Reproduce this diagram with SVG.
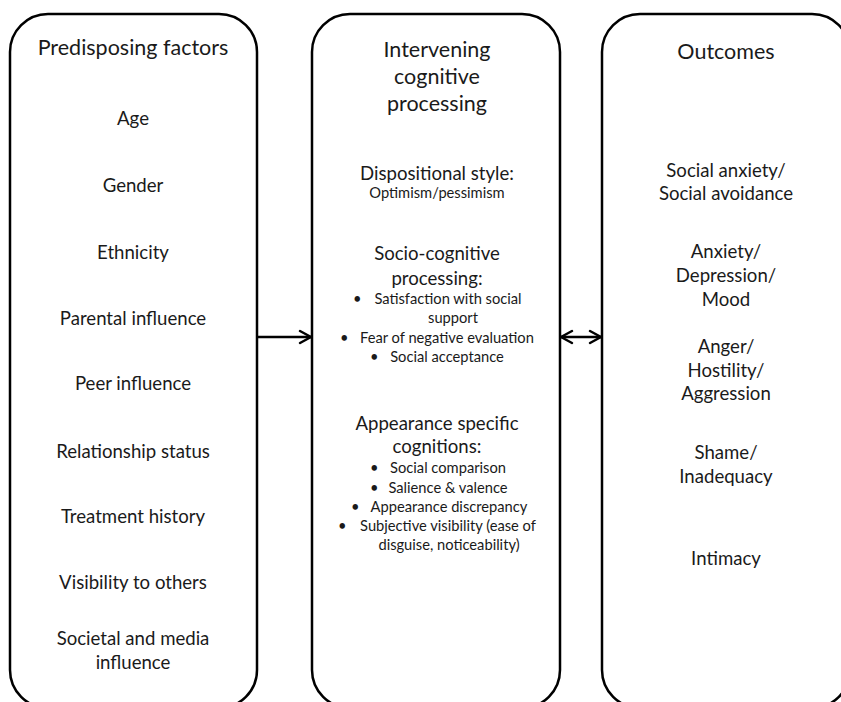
<svg xmlns="http://www.w3.org/2000/svg" width="841" height="702" viewBox="0 0 841 702">
<style>
.box{fill:#fff;stroke:#000;stroke-width:2.5}
text{font-family:Lato,"Open Sans","Liberation Sans",sans-serif;fill:#1a1a1a;text-anchor:middle}
.h{font-size:21.5px}
.i{font-size:18.6px}
.s{font-size:14.7px}
.b{text-anchor:start}
.conn{stroke:#000;stroke-width:2.5;fill:none}
.head{stroke:#000;stroke-width:2.5;fill:none;stroke-linecap:round;stroke-linejoin:round}
</style>
<rect width="841" height="702" fill="#fff"/>
<g id="predisposing">
<rect class="box" x="10" y="14" width="247" height="694" rx="38" ry="38"/>
<text class="h" x="133" y="55">Predisposing factors</text>
<text class="i" x="133" y="125">Age</text>
<text class="i" x="133" y="192">Gender</text>
<text class="i" x="133" y="259">Ethnicity</text>
<text class="i" x="133" y="325">Parental influence</text>
<text class="i" x="133" y="390">Peer influence</text>
<text class="i" x="133" y="458">Relationship status</text>
<text class="i" x="133" y="523">Treatment history</text>
<text class="i" x="133" y="589">Visibility to others</text>
<text class="i" x="133" y="645">Societal and media</text>
<text class="i" x="133" y="669">influence</text>
</g>
<g id="intervening">
<rect class="box" x="312" y="14" width="248" height="694" rx="38" ry="38"/>
<text class="h" x="437" y="57">Intervening</text>
<text class="h" x="437" y="84">cognitive</text>
<text class="h" x="437" y="111">processing</text>
<text class="i" x="437" y="180">Dispositional style:</text>
<text class="s" x="437" y="198">Optimism/pessimism</text>
<text class="i" x="437" y="260">Socio-cognitive</text>
<text class="i" x="437" y="285">processing:</text>
<text class="s b" x="353" y="304">•</text>
<text class="s" x="448" y="304">Satisfaction with social</text>
<text class="s" x="453" y="323">support</text>
<text class="s b" x="340" y="343">•</text>
<text class="s" x="447" y="343">Fear of negative evaluation</text>
<text class="s b" x="370" y="362">•</text>
<text class="s" x="447" y="362">Social acceptance</text>
<text class="i" x="437" y="430">Appearance specific</text>
<text class="i" x="437" y="453">cognitions:</text>
<text class="s b" x="370" y="473">•</text>
<text class="s" x="448" y="473">Social comparison</text>
<text class="s b" x="370" y="493">•</text>
<text class="s" x="448" y="493">Salience &amp; valence</text>
<text class="s b" x="351" y="512">•</text>
<text class="s" x="449" y="512">Appearance discrepancy</text>
<text class="s b" x="338" y="531">•</text>
<text class="s" x="448" y="531">Subjective visibility (ease of</text>
<text class="s" x="449" y="550">disguise, noticeability)</text>
</g>
<g id="outcomes">
<rect class="box" x="602" y="14" width="248" height="694" rx="38" ry="38"/>
<text class="h" x="726" y="59">Outcomes</text>
<text class="i" x="726" y="177">Social anxiety/</text>
<text class="i" x="726" y="200">Social avoidance</text>
<text class="i" x="726" y="258">Anxiety/</text>
<text class="i" x="726" y="282">Depression/</text>
<text class="i" x="726" y="306">Mood</text>
<text class="i" x="726" y="353">Anger/</text>
<text class="i" x="726" y="377">Hostility/</text>
<text class="i" x="726" y="400">Aggression</text>
<text class="i" x="726" y="459">Shame/</text>
<text class="i" x="726" y="483">Inadequacy</text>
<text class="i" x="726" y="565">Intimacy</text>
</g>
<g id="connectors">
<line class="conn" x1="257" y1="337" x2="311" y2="337"/>
<polyline class="head" points="300,331 311,337 300,343"/>
<line class="conn" x1="561" y1="337" x2="601" y2="337"/>
<polyline class="head" points="572,331 561,337 572,343"/>
<polyline class="head" points="590,331 601,337 590,343"/>
</g>
</svg>
